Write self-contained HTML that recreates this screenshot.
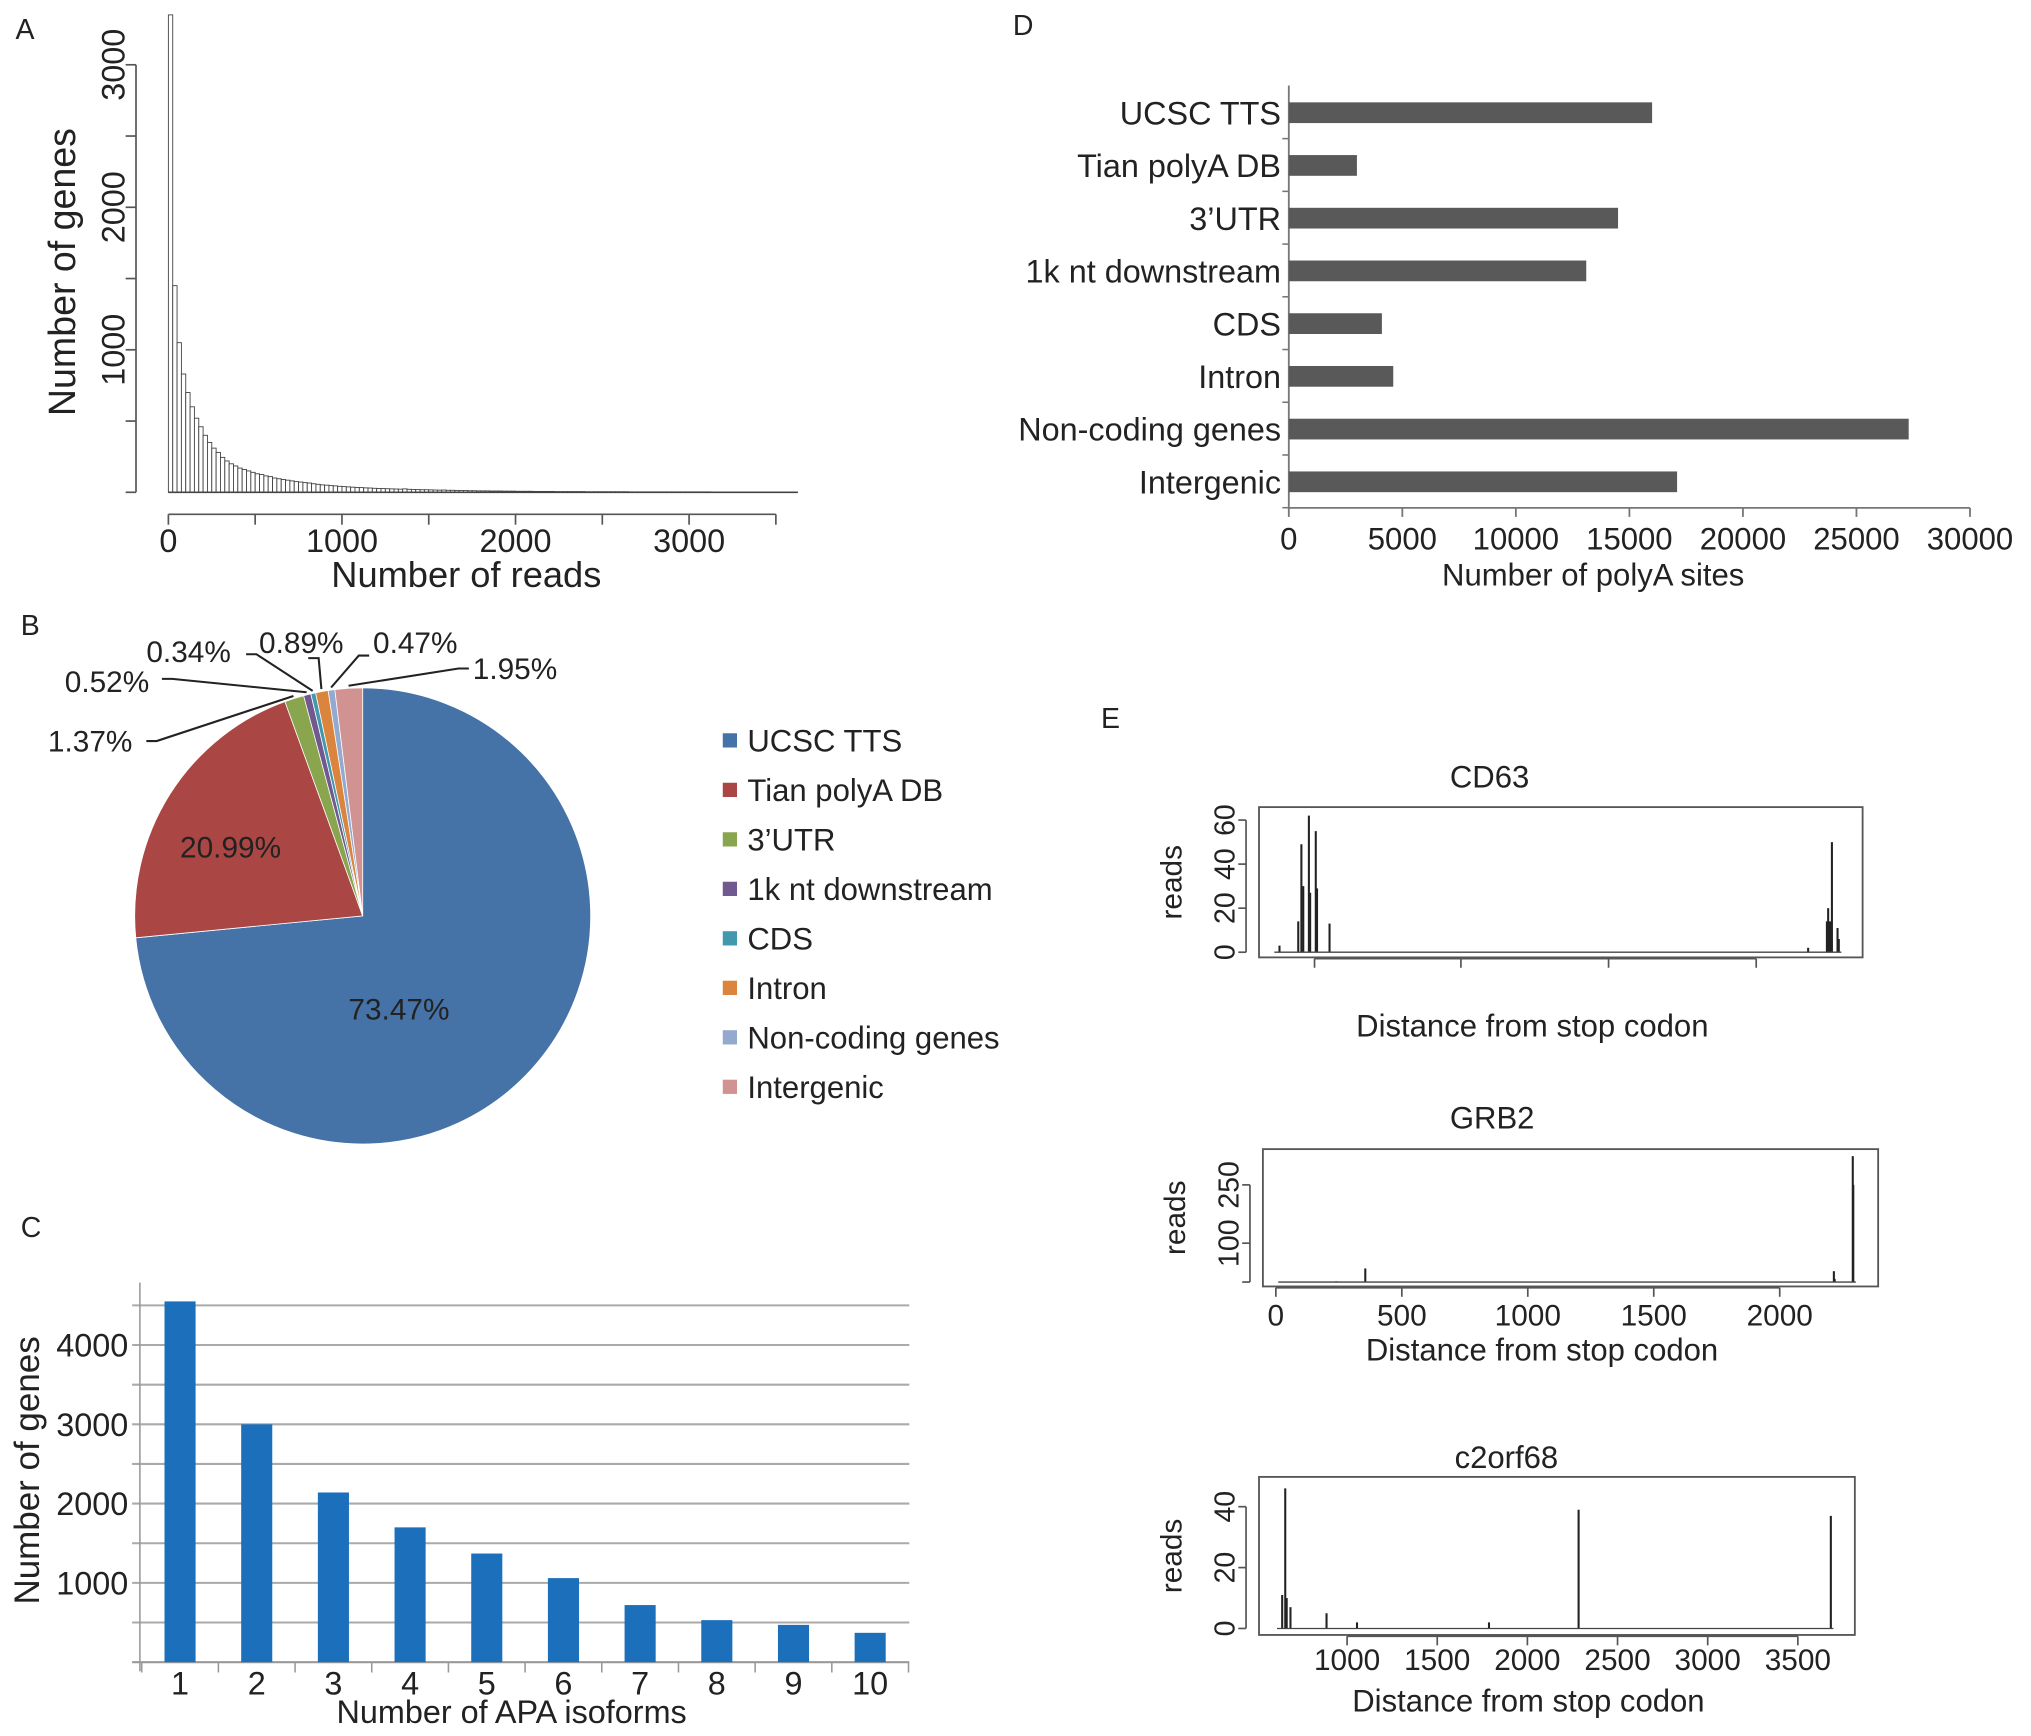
<!DOCTYPE html>
<html><head><meta charset="utf-8"><style>
html,body{margin:0;padding:0;background:#fff;}
svg{display:block;font-family:"Liberation Sans",sans-serif;}
</style></head><body>
<svg id="fig" xmlns="http://www.w3.org/2000/svg" width="2031" height="1736" viewBox="0 0 1568 1340" preserveAspectRatio="none">
<rect width="1568" height="1340" fill="#fff"/>
<g id="gA"></g>
<g id="gB"></g>
<g id="gC"></g>
<g id="gD"></g>
<g id="gE"></g>
</svg>
<script>
// ---- Panel A data ----
const histBinWidth = 25;
const histCounts = [3350,1450,1050,830,700,600,520,460,400,350,310,280,245,220,200,185,170,160,150,140,130,125,115,110,100,95,90,85,80,75,72,68,65,60,56,52,50,47,45,42,40,38,36,34,33,31,30,28,27,26,25,24,23,22,24,21,20,19,18,18,17,16,15,16,14,14,13,12,12,11,11,10,10,10,9,9,9,8,8,8,7,7,7,7,6,6,6,6,6,5,5,5,5,5,5,5,4,4,4,4,4,4,4,4,4,4,3,3,3,3,3,3,3,3,3,3,3,3,3,3,3,3,3,3,3,2,2,2,2,2,2,2,2,2,2,2,2,2,2,2,2,2,2,2,2];
const histYTicks = [0,500,1000,1500,2000,2500,3000];
const histYLabels = ["1000","2000","3000"];
const histXTicks = [0,500,1000,1500,2000,2500,3000,3500];
const histXLabels = ["0","1000","2000","3000"];
// ---- Panel B data ----
const pieCategories = ["UCSC TTS","Tian polyA DB","3\u2019UTR","1k nt downstream","CDS","Intron","Non-coding genes","Intergenic"];
const piePercents = [73.47,20.99,1.37,0.52,0.34,0.89,0.47,1.95];
const pieColors = ["#4572a7","#aa4643","#89a54e","#71588f","#4198af","#db843d","#93a9cf","#d19392"];
// ---- Panel C data ----
const isoCategories = ["1","2","3","4","5","6","7","8","9","10"];
const isoValues = [4550,3000,2140,1700,1370,1060,720,530,470,370];
const isoYTicks = [1000,2000,3000,4000];
// ---- Panel D data ----
const siteCategories = ["UCSC TTS","Tian polyA DB","3\u2019UTR","1k nt downstream","CDS","Intron","Non-coding genes","Intergenic"];
const siteValues = [16000,3000,14500,13100,4100,4600,27300,17100];
const siteXTicks = [0,5000,10000,15000,20000,25000,30000];
// ---- Panel E data ----
const cd63Pos = [70,100,105,108,117,119,128,130,150,915,945,947,950,953,962,964];
const cd63Reads = [3,14,49,30,62,27,55,29,13,2,14,20,14,50,11,6];
const cd63YTicks = [0,20,40,60];
const cd63XTicks = [126,360,596,832];
const grb2Pos = [30,240,355,2215,2218,2290,2292];
const grb2Reads = [1,2,35,28,8,324,250];
const grb2YTicks = [0,100,250];
const grb2YLabels = ["100","250"];
const grb2XTicks = [0,500,1000,1500,2000];
const c2Pos = [640,657,665,686,886,1055,1787,2284,3683];
const c2Reads = [11,46,10,7,5,2,2,39,37];
const c2YTicks = [0,20,40];
const c2XTicks = [1000,1500,2000,2500,3000,3500];

const NS="http://www.w3.org/2000/svg";
function mk(parent,tag,attrs,text){const e=document.createElementNS(NS,tag);for(const k in attrs)e.setAttribute(k,attrs[k]);if(text!==undefined)e.textContent=text;parent.appendChild(e);return e;}
function line(p,x1,y1,x2,y2,st,w){return mk(p,"line",{x1,y1,x2,y2,stroke:st||"#333","stroke-width":w||1.3});}

// ===== Panel A =====
(function(){
 const g=document.getElementById("gA");
 const ya=v=>380-v*0.110, xa=v=>130+v*0.134;
 let t=mk(g,"text",{x:12,y:30,"font-size":22,fill:"#222"},"A");
 
 
 line(g,105,ya(3000),105,ya(0),"#555");
 histYTicks.forEach(v=>line(g,97,ya(v),105,ya(v),"#555"));
 histYLabels.forEach(s=>{const v=+s;const e=mk(g,"text",{x:0,y:0,"font-size":25,fill:"#222","text-anchor":"middle",transform:`translate(96,${ya(v)}) rotate(-90)`},s);
  
  });
 t=mk(g,"text",{"font-size":29,fill:"#222","text-anchor":"middle",transform:"translate(58,210) rotate(-90)"},"Number of genes");
 
 
 line(g,xa(0),397,xa(3500),397,"#555");
 histXTicks.forEach(v=>line(g,xa(v),397,xa(v),405,"#555"));
 histXLabels.forEach(s=>{const e=mk(g,"text",{x:xa(+s),y:426,"font-size":25,fill:"#222","text-anchor":"middle"},s);
  
  });
 t=mk(g,"text",{x:360,y:453,"font-size":28,fill:"#222","text-anchor":"middle"},"Number of reads");
 
 
 histCounts.forEach((c,i)=>{const x0=xa(i*histBinWidth),x1=xa((i+1)*histBinWidth);
  const r=mk(g,"rect",{x:x0,y:ya(c),width:x1-x0,height:ya(0)-ya(c),fill:"#fff",stroke:"#444","stroke-width":0.7});
  
  });
 line(g,xa(0),380,xa(histCounts.length*histBinWidth),380,"#444",1.2);
})();

// ===== Panel B =====
(function(){
 const g=document.getElementById("gB");
 const cx=280,cy=707,r=176;
 let t=mk(g,"text",{x:16,y:490,"font-size":22,fill:"#222"},"B");
 
 
 const pt=(a,rr)=>[cx+rr*Math.sin(a),cy-rr*Math.cos(a)];
 let acc=0;const mids=[];
 piePercents.forEach((p,i)=>{const a0=acc/100*2*Math.PI;acc+=p;const a1=acc/100*2*Math.PI;mids.push((a0+a1)/2);
  const [x0,y0]=pt(a0,r),[x1,y1]=pt(a1,r);const large=(a1-a0)>Math.PI?1:0;
  const s=mk(g,"path",{d:`M${cx},${cy} L${x0},${y0} A${r},${r} 0 ${large} 1 ${x1},${y1} Z`,fill:pieColors[i],stroke:"#fff","stroke-width":0.6});
  
  });
 const fmt=v=>v.toFixed(2)+"%";
 [[0,308,787],[1,178,662]].forEach(([i,x,y])=>{const e=mk(g,"text",{x,y,"font-size":23,fill:"#222","text-anchor":"middle"},fmt(piePercents[i]));
  
  });
 const outer=[[2,37,580,"start",113,572],[3,50,534,"start",125,524],[4,113,511,"start",190,505],[5,200,504,"start",238,508],[6,288,504,"start",285,506],[7,365,524,"start",362,516]];
 outer.forEach(([i,x,y,anc,lx,ly])=>{const e=mk(g,"text",{x,y,"font-size":23,fill:"#222","text-anchor":anc},fmt(piePercents[i]));
  
  
  const [px,py]=pt(mids[i],r+2);
  const l=mk(g,"polyline",{points:`${lx},${ly} ${lx+ (px>lx?8:-8)},${ly} ${px},${py}`,fill:"none",stroke:"#222","stroke-width":1.6});
  
  });
 pieCategories.forEach((c,i)=>{const y=572+i*38.2;
  const sw=mk(g,"rect",{x:558,y:y-6,width:11,height:11,fill:pieColors[i]});
  
  
  const e=mk(g,"text",{x:577,y:y+8,"font-size":24,fill:"#222"},c);
  
  });
})();

// ===== Panel C =====
(function(){
 const g=document.getElementById("gC");
 const yc=v=>1283-v*0.0612, xc=i=>139+i*59.2;
 let t=mk(g,"text",{x:16,y:955,"font-size":22,fill:"#222"},"C");
 
 
 for(let v=500;v<=4500;v+=500){line(g,102,yc(v),702,yc(v),"#aaa",1.6);}
 line(g,108,990,108,1290,"#999",1.2);
 line(g,102,1283,702,1283,"#999",1.6);
 for(let i=0;i<=isoCategories.length;i++){const x=139+(i-0.5)*59.2;line(g,x,1283,x,1291,"#999",1.2);}
 isoYTicks.forEach(v=>{const e=mk(g,"text",{x:99,y:yc(v)+9,"font-size":25,fill:"#222","text-anchor":"end"},String(v));
  
  });
 isoValues.forEach((v,i)=>{const b=mk(g,"rect",{x:xc(i)-12,y:yc(v),width:24,height:yc(0)-yc(v),fill:"#1c6fba"});
  
  });
 isoCategories.forEach((c,i)=>{const e=mk(g,"text",{x:xc(i),y:1308,"font-size":25,fill:"#222","text-anchor":"middle"},c);
  
  });
 t=mk(g,"text",{x:395,y:1330,"font-size":25,fill:"#222","text-anchor":"middle"},"Number of APA isoforms");
 
 
 t=mk(g,"text",{"font-size":27,fill:"#222","text-anchor":"middle",transform:"translate(30,1135) rotate(-90)"},"Number of genes");
 
 
})();

// ===== Panel D =====
(function(){
 const g=document.getElementById("gD");
 const xd=v=>995+v*0.01753, yd=i=>87+i*40.7;
 let t=mk(g,"text",{x:782,y:27,"font-size":22,fill:"#222"},"D");
 
 
 line(g,995,66,995,392,"#777",1.4);
 line(g,995,392,xd(30000),392,"#777",1.4);
 siteXTicks.forEach(v=>{line(g,xd(v),392,xd(v),399,"#777",1.4);
  const e=mk(g,"text",{x:xd(v),y:424,"font-size":24,fill:"#222","text-anchor":"middle"},String(v));
  
  });
 siteValues.forEach((v,i)=>{line(g,990,yd(i)+20,995,yd(i)+20,"#777",1.2);
  const b=mk(g,"rect",{x:995,y:yd(i)-8,width:xd(v)-995,height:16,fill:"#595959"});
  
  
  const e=mk(g,"text",{x:989,y:yd(i)+9,"font-size":25,fill:"#222","text-anchor":"end"},siteCategories[i]);
  
  });
 t=mk(g,"text",{x:1230,y:452,"font-size":24,fill:"#222","text-anchor":"middle"},"Number of polyA sites");
 
 
})();

// ===== Panel E =====
(function(){
 const g=document.getElementById("gE");
 let t=mk(g,"text",{x:850,y:562,"font-size":22,fill:"#222"},"E");
 
 
 function plot(name,box,title,titleX,titleY,yAt,xAt,pos,reads,yticks,ylabels,xticks,showXLabels,xlabelY,axTitleY){
  const sg=mk(g,"g",{});
  
  
  mk(sg,"rect",{x:box[0],y:box[1],width:box[2]-box[0],height:box[3]-box[1],fill:"none",stroke:"#555","stroke-width":1.4});
  let e=mk(sg,"text",{x:titleX,y:titleY,"font-size":24,fill:"#222","text-anchor":"middle"},title);
  
  
  const lx=box[0]-10;
  line(sg,lx,yAt(yticks[0]),lx,yAt(yticks[yticks.length-1]),"#555",1.3);
  yticks.forEach(v=>line(sg,lx-6,yAt(v),lx,yAt(v),"#555",1.3));
  ylabels.forEach(s=>{const el=mk(sg,"text",{"font-size":22,fill:"#222","text-anchor":"middle",transform:`translate(${lx-9},${yAt(+s)}) rotate(-90)`},s);
   
   });
  e=mk(sg,"text",{"font-size":23,fill:"#222","text-anchor":"middle",transform:`translate(${box[0]-60},${(box[1]+box[3])/2}) rotate(-90)`},"reads");
  
  
  const by=box[3]+1;
  line(sg,xAt(xticks[0]),by,xAt(xticks[xticks.length-1]),by,"#555",1.3);
  xticks.forEach(v=>{line(sg,xAt(v),by,xAt(v),by+7,"#555",1.3);
   if(showXLabels){const el=mk(sg,"text",{x:xAt(v),y:xlabelY,"font-size":23,fill:"#222","text-anchor":"middle"},String(v));
    
    }});
  e=mk(sg,"text",{x:(box[0]+box[2])/2-22,y:axTitleY,"font-size":24,fill:"#222","text-anchor":"middle"},"Distance from stop codon");
  
  
  pos.forEach((p,i)=>{const l=line(sg,xAt(p),yAt(0),xAt(p),yAt(reads[i]),"#222",1.6);
   
   });
  line(sg,xAt(pos[0])-4,yAt(0),xAt(pos[pos.length-1])+2,yAt(0),"#444",1);
 }
 const cdY=v=>735-v*1.7, cdX=v=>954+v*0.483;
 plot("cd63",[972,623,1438,739],"CD63",1150,608,cdY,cdX,cd63Pos,cd63Reads,cd63YTicks,["0","20","40","60"],cd63XTicks,false,0,800);
 const gY=v=>989.6-v*0.3, gX=v=>985+v*0.1945;
 plot("grb2",[975,887,1450,993],"GRB2",1152,871,gY,gX,grb2Pos,grb2Reads,grb2YTicks,grb2YLabels,grb2XTicks,true,1023,1050);
 const cY=v=>1257-v*2.35, cX=v=>1040+(v-1000)*0.1392;
 plot("c2orf68",[972,1140,1432,1262],"c2orf68",1163,1133,cY,cX,c2Pos,c2Reads,c2YTicks,["0","20","40"],c2XTicks,true,1289,1321);
})();
</script>
</body></html>
